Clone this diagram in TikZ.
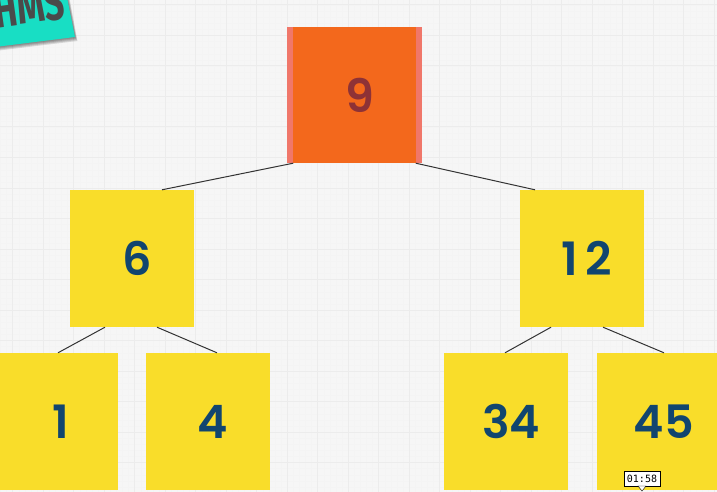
\documentclass[tikz,border=0pt]{standalone}
\usepackage{fontspec}
\setmainfont{Poppins SemiBold}
\newfontfamily\tagfont{Fira Sans}
\newfontfamily\stampfont{DejaVu Sans Mono}
\definecolor{paper}{HTML}{F6F6F6}
\definecolor{gridline}{HTML}{ECECEC}
\definecolor{finegrid}{HTML}{F4F4F4}
\definecolor{boxyellow}{HTML}{F9DD2A}
\definecolor{boxorange}{HTML}{F3681C}
\definecolor{boxpink}{HTML}{F0776A}
\definecolor{digitblue}{HTML}{11456F}
\definecolor{digitred}{HTML}{8E3236}
\definecolor{tagteal}{HTML}{18DEC4}
\definecolor{taggray}{HTML}{4A4A4A}
\tikzset{
  treebox/.style = {shape=rectangle, fill=boxyellow, inner sep=0pt,
                    minimum width=124pt, minimum height=137pt,
                    font=\fontsize{46}{46}\selectfont, text=digitblue,
                    execute at begin node=\hspace*{10pt}},
  rootbox/.style = {treebox, fill=boxorange, minimum width=123pt, minimum height=136pt,
                    text=digitred},
  sidebar/.style = {shape=rectangle, fill=boxpink, inner sep=0pt,
                    minimum width=6pt, minimum height=136pt},
  link/.style    = {draw=black!80, line width=1pt},
  stamp/.style   = {shape=rectangle, draw=black, fill=white, inner sep=0pt,
                    minimum width=36pt, minimum height=15pt,
                    font=\stampfont\fontsize{10}{10}\selectfont}
}
\begin{document}
\begin{tikzpicture}[x=1pt,y=-1pt]
\useasboundingbox (0,0) rectangle (717,492);
\clip (0,0) rectangle (717,492);
\fill[paper] (0,0) rectangle (717,492);
% background grid
\foreach \i in {0,...,120} {
    \draw[finegrid, line width=0.4pt] ({0.4+6.1*\i},0) -- ({0.4+6.1*\i},492);
    \draw[finegrid, line width=0.4pt] (0,{5+6.1*\i}) -- (717,{5+6.1*\i});
}
\foreach \i in {0,...,23} {
    \draw[gridline, line width=1pt] ({12.5+30.5*\i},0) -- ({12.5+30.5*\i},492);
    \draw[gridline, line width=1pt] (0,{5+30.5*\i}) -- (717,{5+30.5*\i});
}
% tag in the corner
\foreach \s in {4,3,2,1} {
    \fill[black, opacity=0.13] (-5,{47+\s}) -- ({75+0.6*\s},{37+\s}) -- ({66.5+0.6*\s},-5) -- (-5,-5) -- cycle;
}
\fill[tagteal] (-5,47) -- (75,37) -- (66.5,-5) -- (-5,-5) -- cycle;
\node[rotate=8, text=taggray, font=\tagfont\fontsize{50}{50}\selectfont\bfseries,
      inner sep=0pt, xscale=0.7] (tag) at (29,6) {HMS};
% tree
\node[rootbox] (nine) at (354.5,95) {9};
\node[sidebar] (nineleft) at (290,95) {};
\node[sidebar] (nineright) at (419,95) {};
\node[treebox] (six) at (132,258.5) {6};
\node[treebox] (twelve) at (582,258.5) {1\kern7pt 2};
\node[treebox] (one) at (56,421.5) {1};
\node[treebox] (four) at (208,421.5) {4};
\node[treebox] (thirtyfour) at (506,421.5) {34};
\node[treebox] (fortyfive) at (659,421.5) {45};
\draw[link] (nineleft.south east) -- ([xshift=30pt]six.north);
\draw[link] (nineright.south west) -- ([xshift=-47pt]twelve.north);
\draw[link] ([xshift=-27pt]six.south) -- ([xshift=2pt]one.north);
\draw[link] ([xshift=25pt]six.south) -- ([xshift=9pt]four.north);
\draw[link] ([xshift=-31pt]twelve.south) -- ([xshift=-1pt]thirtyfour.north);
\draw[link] ([xshift=21pt]twelve.south) -- ([xshift=5pt]fortyfive.north);
% video time stamp
\node[stamp] (time) at (642,478.5) {01:58};
\fill[white, draw=black] (638,486) -- (642,491) -- (646,486) -- cycle;
\end{tikzpicture}
\end{document}
